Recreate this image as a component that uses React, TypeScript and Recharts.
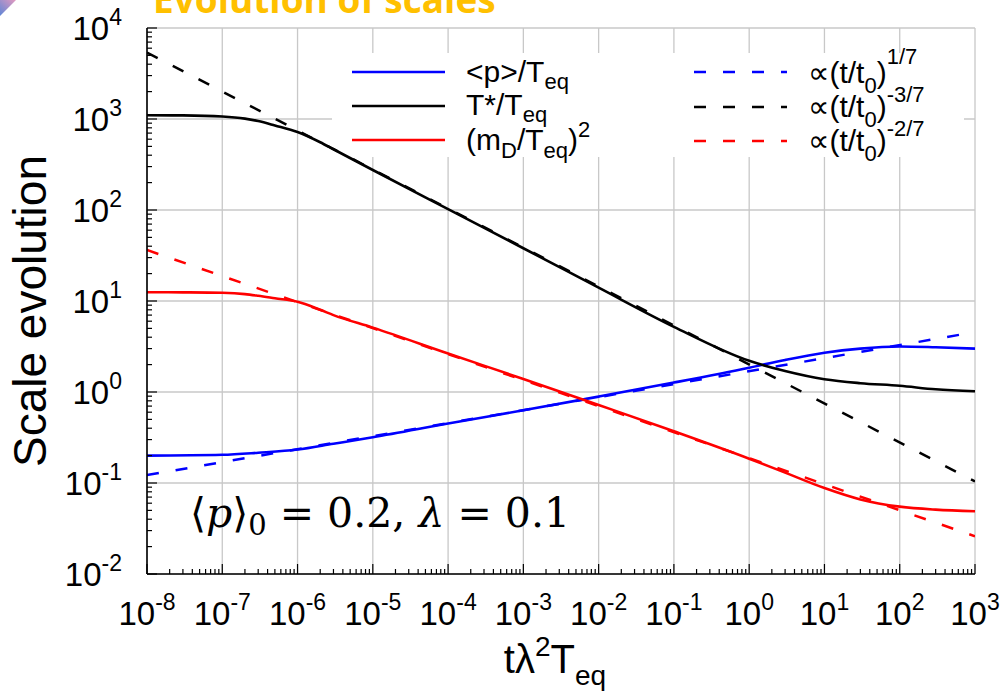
import React from 'react';
import { LineChart, Line, XAxis, YAxis, CartesianGrid } from 'recharts';

// ---- tick labels (exponents of 10) ----
const xTickExponents = [-8, -7, -6, -5, -4, -3, -2, -1, 0, 1, 2, 3];
const yTickExponents = [-2, -1, 0, 1, 2, 3, 4];

// ---- <p>/T_eq (blue solid) ----
const timeP = [1e-8, 1e-7, 3e-7, 1e-6, 3e-6, 1e-5, 1e-4, 1e-3, 1e-2, 1e-1, 1, 3, 10, 30, 100, 300, 1000];
const pOverTeq = [0.2, 0.204, 0.215, 0.233, 0.27, 0.318, 0.45, 0.63, 0.89, 1.27, 1.85, 2.25, 2.7, 3.0, 3.16, 3.1, 3.0];

// ---- T*/T_eq (black solid) ----
const timeT = [1e-8, 3e-8, 1e-7, 2e-7, 3e-7, 5e-7, 1e-6, 2e-6, 3e-6, 1e-5, 1e-4, 1e-3, 1e-2, 1e-1, 1, 3, 10, 30, 100, 300, 1000];
const tStarOverTeq = [1100, 1095, 1065, 1010, 950, 850, 720, 555, 465, 275, 102, 38, 14, 5.2, 2.2, 1.7, 1.38, 1.25, 1.17, 1.07, 1.02];

// ---- (m_D/T_eq)^2 (red solid) ----
const timeM = [1e-8, 3e-8, 1e-7, 2e-7, 3e-7, 5e-7, 1e-6, 2e-6, 3e-6, 1e-5, 1e-4, 1e-3, 1e-2, 1e-1, 1, 3, 10, 30, 100, 300, 1000];
const mDOverTeqSq = [12.5, 12.45, 12.3, 11.9, 11.4, 10.7, 9.8, 8.0, 7.0, 5.1, 2.65, 1.39, 0.72, 0.37, 0.185, 0.13, 0.088, 0.066, 0.055, 0.051, 0.049];

// ---- power-law guides (dashed) ----
const fitTime = [1e-8, 1e3];
const fitP = [0.122, 4.55];   // ∝ (t/t0)^(1/7)
const fitT = [5380, 0.104];   // ∝ (t/t0)^(-3/7)
const fitM = [36.3, 0.026];   // ∝ (t/t0)^(-2/7)

const toRows = (ts: number[], vs: number[]) => ts.map((t, i) => ({ t, v: vs[i] }));

const xMajor = xTickExponents.map((e) => Math.pow(10, e));
const yMajor = yTickExponents.map((e) => Math.pow(10, e));
const withMinors = (exps: number[]) => {
  const out: number[] = [];
  exps.forEach((e, i) => {
    out.push(Math.pow(10, e));
    if (i < exps.length - 1) for (let m = 2; m <= 9; m++) out.push(m * Math.pow(10, e));
  });
  return out;
};
const xAllTicks = withMinors(xTickExponents);
const yAllTicks = withMinors(yTickExponents);

const isMajor = (v: number) => Math.abs(Math.log10(v) - Math.round(Math.log10(v))) < 1e-6;
const expOf = (v: number) => Math.round(Math.log10(v));

const SANS = "'Liberation Sans', Arial, 'DejaVu Sans', sans-serif";
const TICK_FS = 33;
const SUP_FS = 23;
const MAJOR_LEN = 10;
const MINOR_LEN = 5;

function BottomTick(props: any) {
  const { x, y, payload } = props;
  const v = payload.value;
  const major = isMajor(v);
  return (
    <g>
      <line x1={x} x2={x} y1={y} y2={y - (major ? MAJOR_LEN : MINOR_LEN)} stroke="#000" strokeWidth={1.2} />
      {major && (
        <text x={x} y={y + 51} textAnchor="middle" fontSize={TICK_FS} fontFamily={SANS} fill="#000">
          10<tspan dy={-15} fontSize={SUP_FS}>{String(expOf(v))}</tspan>
        </text>
      )}
    </g>
  );
}
function TopTick(props: any) {
  const { x, y, payload } = props;
  const major = isMajor(payload.value);
  return <line x1={x} x2={x} y1={y} y2={y + (major ? MAJOR_LEN : MINOR_LEN)} stroke="#000" strokeWidth={1.2} />;
}
function LeftTick(props: any) {
  const { x, y, payload } = props;
  const v = payload.value;
  const major = isMajor(v);
  return (
    <g>
      <line x1={x} x2={x + (major ? MAJOR_LEN : MINOR_LEN)} y1={y} y2={y} stroke="#000" strokeWidth={1.2} />
      {major && (
        <text x={x - 25} y={y + 12} textAnchor="end" fontSize={TICK_FS} fontFamily={SANS} fill="#000">
          10<tspan dy={-15} fontSize={SUP_FS}>{String(expOf(v))}</tspan>
        </text>
      )}
    </g>
  );
}
function RightTick(props: any) {
  const { x, y, payload } = props;
  const major = isMajor(payload.value);
  return <line x1={x} x2={x - (major ? MAJOR_LEN : MINOR_LEN)} y1={y} y2={y} stroke="#000" strokeWidth={1.2} />;
}

const LEG_FS = 30;
const LEG_SUB = 22;

export default function App() {
  return (
    <div style={{ position: 'absolute', left: 0, top: 0, width: 1002, height: 697, background: '#fff' }}>
      <LineChart width={1002} height={697} margin={{ top: 28, right: 27, bottom: 0, left: 0 }}>
        <defs>
          <linearGradient id="cornerGrad" x1="0" y1="1" x2="1" y2="0">
            <stop offset="0%" stopColor="#5f86d6" />
            <stop offset="100%" stopColor="#e29ac0" />
          </linearGradient>
        </defs>
        <CartesianGrid
          xAxisId="b"
          yAxisId="l"
          verticalValues={xMajor}
          horizontalValues={yMajor}
          stroke="#c8c8c8"
          strokeWidth={1.3}
          fill="none"
        />
        <XAxis
          xAxisId="b"
          dataKey="t"
          type="number"
          scale="log"
          domain={[1e-8, 1e3]}
          allowDataOverflow
          ticks={xAllTicks}
          interval={0}
          tick={(p: any) => <BottomTick {...p} />}
          tickLine={false}
          tickSize={0}
          tickMargin={0}
          height={123}
          axisLine={{ stroke: '#000', strokeWidth: 1.6 }}
        />
        <XAxis
          xAxisId="tp"
          orientation="top"
          dataKey="t"
          type="number"
          scale="log"
          domain={[1e-8, 1e3]}
          allowDataOverflow
          ticks={xAllTicks}
          interval={0}
          tick={(p: any) => <TopTick {...p} />}
          tickLine={false}
          tickSize={0}
          tickMargin={0}
          height={0}
          axisLine={{ stroke: '#000', strokeWidth: 1.6 }}
        />
        <YAxis
          yAxisId="l"
          type="number"
          scale="log"
          domain={[1e-2, 1e4]}
          allowDataOverflow
          ticks={yAllTicks}
          interval={0}
          tick={(p: any) => <LeftTick {...p} />}
          tickLine={false}
          tickSize={0}
          tickMargin={0}
          width={147}
          axisLine={{ stroke: '#000', strokeWidth: 1.6 }}
        />
        <YAxis
          yAxisId="r"
          orientation="right"
          type="number"
          scale="log"
          domain={[1e-2, 1e4]}
          allowDataOverflow
          ticks={yAllTicks}
          interval={0}
          tick={(p: any) => <RightTick {...p} />}
          tickLine={false}
          tickSize={0}
          tickMargin={0}
          width={0}
          axisLine={{ stroke: '#000', strokeWidth: 1.6 }}
        />

        {/* opaque key box */}
        <rect x={332} y={53} width={632} height={104} fill="#fff" />

        <Line xAxisId="b" yAxisId="l" data={toRows(fitTime, fitP)} dataKey="v" stroke="#0000ff" strokeWidth={2.5} strokeDasharray="12 17" dot={false} isAnimationActive={false} />
        <Line xAxisId="b" yAxisId="l" data={toRows(fitTime, fitT)} dataKey="v" stroke="#000000" strokeWidth={2.5} strokeDasharray="12 17" dot={false} isAnimationActive={false} />
        <Line xAxisId="b" yAxisId="l" data={toRows(fitTime, fitM)} dataKey="v" stroke="#ff0000" strokeWidth={2.5} strokeDasharray="12 17" dot={false} isAnimationActive={false} />
        <Line xAxisId="b" yAxisId="l" type="monotone" data={toRows(timeP, pOverTeq)} dataKey="v" stroke="#0000ff" strokeWidth={2.6} dot={false} isAnimationActive={false} />
        <Line xAxisId="b" yAxisId="l" type="monotone" data={toRows(timeT, tStarOverTeq)} dataKey="v" stroke="#000000" strokeWidth={2.6} dot={false} isAnimationActive={false} />
        <Line xAxisId="b" yAxisId="l" type="monotone" data={toRows(timeM, mDOverTeqSq)} dataKey="v" stroke="#ff0000" strokeWidth={2.6} dot={false} isAnimationActive={false} />

        {/* key samples */}
        <line x1={352} x2={445} y1={72} y2={72} stroke="#0000ff" strokeWidth={2.5} />
        <line x1={352} x2={445} y1={106} y2={106} stroke="#000" strokeWidth={2.5} />
        <line x1={352} x2={445} y1={140} y2={140} stroke="#ff0000" strokeWidth={2.5} />
        <line x1={694} x2={787} y1={72} y2={72} stroke="#0000ff" strokeWidth={2.5} strokeDasharray="12 17" />
        <line x1={694} x2={787} y1={107} y2={107} stroke="#000" strokeWidth={2.5} strokeDasharray="12 17" />
        <line x1={694} x2={787} y1={141} y2={141} stroke="#ff0000" strokeWidth={2.5} strokeDasharray="12 17" />

        <g fontFamily={SANS} fontSize={LEG_FS} fill="#000">
          <text x={466} y={82}>
            {'<p>/T'}<tspan dy={7} fontSize={LEG_SUB}>eq</tspan>
          </text>
          <text x={466} y={115}>
            {'T*/T'}<tspan dy={7} fontSize={LEG_SUB}>eq</tspan>
          </text>
          <text x={466} y={150}>
            {'(m'}<tspan dy={8} fontSize={LEG_SUB}>D</tspan><tspan dy={-8}>/T</tspan><tspan dy={8} fontSize={LEG_SUB}>eq</tspan><tspan dy={-8}>)</tspan><tspan dy={-13} fontSize={LEG_SUB}>2</tspan>
          </text>
          <text x={808} y={83}>
            {'∝(t/t'}<tspan dy={10} fontSize={LEG_SUB}>0</tspan><tspan dy={-10}>)</tspan><tspan dy={-19} fontSize={LEG_SUB}>1/7</tspan>
          </text>
          <text x={808} y={117}>
            {'∝(t/t'}<tspan dy={10} fontSize={LEG_SUB}>0</tspan><tspan dy={-10}>)</tspan><tspan dy={-15} fontSize={LEG_SUB}>-3/7</tspan>
          </text>
          <text x={808} y={151}>
            {'∝(t/t'}<tspan dy={10} fontSize={LEG_SUB}>0</tspan><tspan dy={-10}>)</tspan><tspan dy={-15} fontSize={LEG_SUB}>-2/7</tspan>
          </text>
        </g>

        {/* parameter annotation */}
        <text x={190} y={527} fontSize={41} fontFamily="'DejaVu Serif', 'Liberation Serif', serif" fill="#000">
          {'⟨'}<tspan fontStyle="italic">p</tspan>{'⟩'}<tspan dy={8} fontSize={29}>0</tspan><tspan dy={-8}>{' = 0.2, '}</tspan><tspan fontStyle="italic">λ</tspan>{' = 0.1'}
        </text>

        {/* axis titles */}
        <text x={555} y={673} textAnchor="middle" fontSize={40} fontFamily={SANS} fill="#000">
          tλ<tspan dy={-17} fontSize={28}>2</tspan><tspan dy={17}>T</tspan><tspan dy={12} fontSize={28}>eq</tspan>
        </text>
        <text x={46} y={311} textAnchor="middle" fontSize={46} fontFamily={SANS} fill="#000" transform="rotate(-90 46 311)">
          Scale evolution
        </text>

        {/* slide title (clipped at the top) and corner ornament */}
        <text x={153} y={13} fontSize={37} fontWeight={700} fontFamily="'Open Sans', sans-serif" fill="#FFC000">
          Evolution of scales
        </text>
        <polygon points="0,0 16,0 0,16" fill="url(#cornerGrad)" />
      </LineChart>
    </div>
  );
}
